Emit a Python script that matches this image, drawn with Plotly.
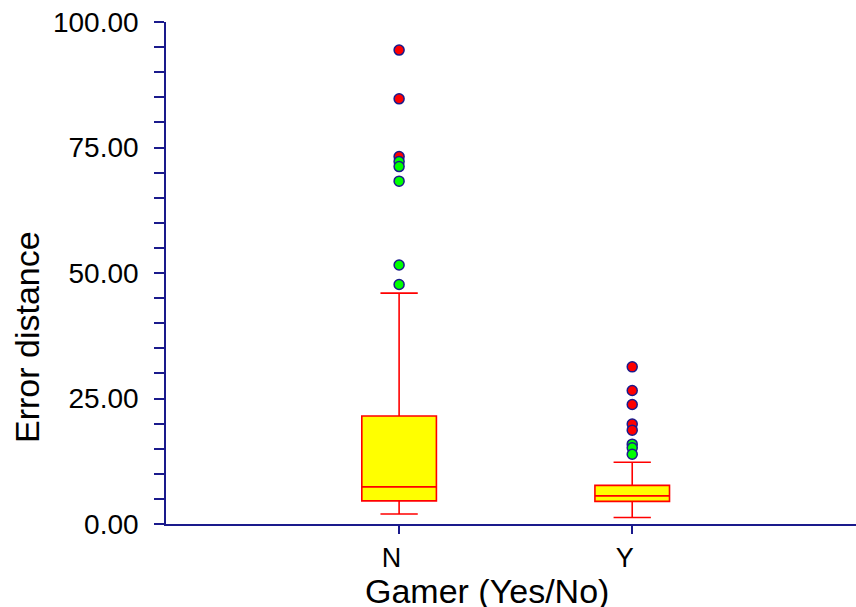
import plotly.graph_objects as go

# ---- data ----
categories = ["N", "Y"]
cat_pos = [0, 1]
q1 = [4.6, 4.5]
median = [7.4, 5.6]
q3 = [21.5, 7.7]
lower_fence = [2.0, 1.3]
upper_fence = [46.0, 12.3]

far_N = [94.4, 84.7, 73.2]
near_N = [72.2, 71.2, 68.3, 51.6, 47.7]
far_Y = [31.3, 26.6, 23.8, 19.9, 18.7]
near_Y = [15.9, 15.2, 13.9]

y_ticks = [0, 25, 50, 75, 100]

NAVY = "#1a1a8c"
FONT = "Liberation Sans, Arial, sans-serif"

fig = go.Figure()

fig.add_trace(go.Box(
    x=cat_pos, q1=q1, median=median, q3=q3,
    lowerfence=lower_fence, upperfence=upper_fence,
    boxpoints=False, width=0.32, whiskerwidth=0.5,
    fillcolor="#ffff00", line=dict(color="#ff0000", width=1.6),
    showlegend=False, hoverinfo="skip",
))

far_x = [cat_pos[0]] * len(far_N) + [cat_pos[1]] * len(far_Y)
far_y = far_N + far_Y
near_x = [cat_pos[0]] * len(near_N) + [cat_pos[1]] * len(near_Y)
near_y = near_N + near_Y

fig.add_trace(go.Scatter(
    x=far_x, y=far_y, mode="markers",
    marker=dict(color="#ff0000", size=10, line=dict(color=NAVY, width=1.5)),
    showlegend=False,
))
fig.add_trace(go.Scatter(
    x=near_x, y=near_y, mode="markers",
    marker=dict(color="#00ff00", size=10, line=dict(color=NAVY, width=1.5)),
    showlegend=False,
))

tick_text = [c + "\u00a0\u00a0" for c in categories]

fig.update_layout(
    width=856, height=607,
    margin=dict(l=166, r=0, t=22, b=83),
    paper_bgcolor="white", plot_bgcolor="white",
    font=dict(family=FONT, color="black", size=27),
    showlegend=False,
    xaxis=dict(
        range=[-1.0, 1.96], tickvals=cat_pos, ticktext=tick_text,
        showgrid=False, zeroline=False,
        showline=True, linecolor=NAVY, linewidth=1.6,
        ticks="outside", ticklen=8, tickcolor=NAVY, tickwidth=1.6,
        tickfont=dict(size=27), ticklabelstandoff=1,
    ),
    yaxis=dict(
        range=[0, 100], tickvals=y_ticks, tickformat=".2f",
        showgrid=False, zeroline=False,
        showline=True, linecolor=NAVY, linewidth=1.6,
        ticks="outside", ticklen=10, tickcolor=NAVY, tickwidth=1.6,
        tickfont=dict(size=28), ticklabelstandoff=10,
        minor=dict(dtick=5, ticks="outside", ticklen=10, tickcolor=NAVY, tickwidth=1.6, showgrid=False),
    ),
    annotations=[
        dict(text="Gamer (Yes/No)", xref="paper", yref="paper",
             x=(487 - 166) / 690, y=-0.134, xanchor="center", yanchor="middle",
             showarrow=False, font=dict(size=34)),
        dict(text="Error distance", xref="paper", yref="paper",
             x=-(166 - 27) / 690, y=(524 - 337) / 502, xanchor="center", yanchor="middle",
             textangle=-90, showarrow=False, font=dict(size=34)),
    ],
)

fig.write_html("out.html")
